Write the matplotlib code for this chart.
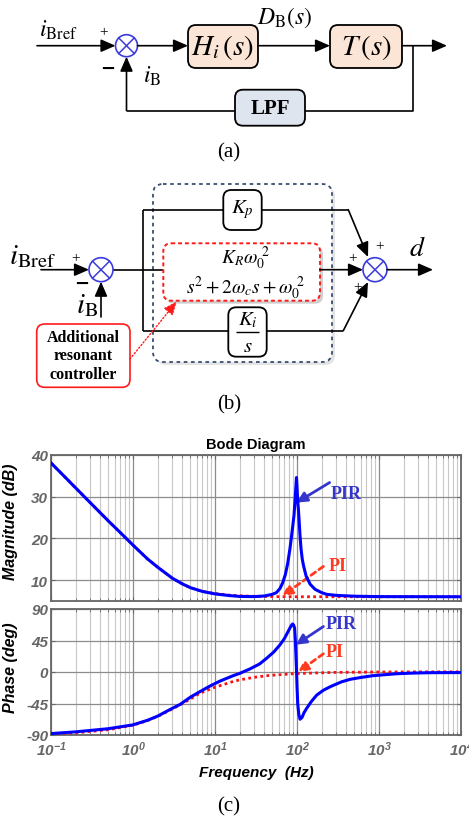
import matplotlib
matplotlib.use("Agg")
import matplotlib.pyplot as plt
from matplotlib.patches import FancyBboxPatch, Circle
from matplotlib.ticker import LogLocator, NullFormatter

plt.rcParams['mathtext.fontset'] = 'stix'
plt.rcParams['axes.unicode_minus'] = False

# ---------------- data ----------------
pi_mag_f = [0.1, 0.15, 0.2, 0.3, 0.5, 0.7, 1, 1.5, 2, 3, 4, 5, 7, 10, 15, 20, 30,
            50, 100, 1000, 10000]
pi_mag_db = [38.1, 34.6, 32.1, 28.6, 24.2, 21.4, 18.4, 15.1, 13.1, 10.5, 9.1, 8.2,
             7.3, 6.8, 6.4, 6.25, 6.12, 6.05, 6.02, 6.02, 6.02]

pir_mag_f = [0.1, 0.15, 0.2, 0.3, 0.5, 0.7, 1, 1.5, 2, 3, 4, 5, 7, 10, 15, 20, 30,
             40, 50, 56, 62, 67, 72, 77, 82, 87, 92, 95, 97, 98.5, 100, 102, 104,
             106, 109, 112, 116, 120, 129, 145, 166, 200, 230, 300, 500, 1000, 10000]
pir_mag_db = [38.1, 34.6, 32.1, 28.6, 24.2, 21.4, 18.4, 15.1, 13.1, 10.5, 9.1, 8.2,
              7.3, 6.7, 6.3, 6.1, 6.05, 6.2, 6.6, 7.0, 8.0, 9.4, 11.3, 14.0, 17.5,
              21.5, 25.6, 29.6, 32.5, 34.6, 32.5, 29.0, 27.0, 24.5, 20.5, 17.5,
              15.0, 13.5, 11.0, 9.0, 7.8, 7.0, 6.6, 6.35, 6.15, 6.05, 6.02]

pi_ph_f = [0.1, 0.2, 0.5, 1, 1.5, 2, 3, 4, 5, 6.6, 10, 16.7, 20, 30, 42.7, 50, 98,
           277, 1000, 10000]
pi_ph_deg = [-88.5, -87, -82.5, -76, -69.5, -63.5, -53, -45, -38.7, -30, -21.8,
             -13.5, -11.3, -7.6, -5.3, -4.6, -2.2, -0.6, 0, 0.3]

pir_ph_f = [0.1, 0.2, 0.5, 1, 1.5, 2, 3, 3.74, 5, 6.56, 8.7, 11.5, 16.7, 20, 26.7,
            35, 42.7, 52, 62, 70, 78, 83, 86, 88.5, 91, 93.5, 95.5, 97, 98.5, 100,
            102, 105, 109, 115, 122, 131, 150, 174, 210, 260, 350, 443, 600, 851,
            1200, 1640, 2500, 4200, 10000]
pir_ph_deg = [-88, -85.5, -81, -75.5, -69, -63, -52, -46.4, -36, -28, -20, -13,
              -5.2, -2, 4.4, 11.5, 19.7, 28.5, 38.8, 47.5, 58, 64, 67, 68.6, 67,
              62.8, 45, 25, 5, -20, -45, -60, -67.5, -65, -58, -52, -42, -33,
              -26, -20.5, -14, -10.5, -7.8, -5.2, -3.8, -2.5, -1.6, -1.0, -0.8]

xticks = [0.1, 1, 10, 100, 1000, 10000]
mag_ticks = [10, 20, 30, 40]
ph_ticks = [-90, -45, 0, 45, 90]

# ---------------- figure ----------------
W, H = 469, 820
fig = plt.figure(figsize=(W / 100, H / 100), dpi=100)
ov = fig.add_axes([0, 0, 1, 1])
ov.set_xlim(0, W)
ov.set_ylim(H, 0)
ov.axis('off')

BLUE_J = '#3C3CDC'


def arrow(x0, y0, x1, y1, color='k', lw=1.2, ms=11, ls='-'):
    ov.annotate('', xy=(x1, y1), xytext=(x0, y0),
                arrowprops=dict(arrowstyle='-|>,head_length=0.8,head_width=0.35',
                                color=color, lw=lw, shrinkA=0, shrinkB=0,
                                mutation_scale=ms, linestyle=ls))


def line(xs, ys, color='k', lw=1.2, ls='-'):
    ov.plot(xs, ys, color=color, lw=lw, ls=ls, solid_capstyle='butt')


def sumj(cx, cy, r=11):
    ov.add_patch(Circle((cx, cy), r, facecolor='white', edgecolor=BLUE_J, lw=1.2, zorder=3))
    d = r * 0.707
    ov.plot([cx - d, cx + d], [cy - d, cy + d], color=BLUE_J, lw=1.1, zorder=4)
    ov.plot([cx - d, cx + d], [cy + d, cy - d], color=BLUE_J, lw=1.1, zorder=4)


def box(x0, y0, x1, y1, fc='white', ec='k', lw=1.3, ls='-', r=8, z=2):
    ov.add_patch(FancyBboxPatch((x0, y0), x1 - x0, y1 - y0,
                                boxstyle=f'round,pad=0,rounding_size={r}',
                                facecolor=fc, edgecolor=ec, lw=lw, ls=ls, zorder=z))


# ---------------- (a) ----------------
ya = 46.7
sumj(126.5, ya)
arrow(37, ya, 115.5, ya)
ov.text(58, 30, r'$i_{\mathrm{Bref}}$', fontsize=17, ha='center', va='center')
ov.text(104, 33, '+', fontsize=11, ha='center', va='center', family='Liberation Serif')
ov.text(108, 69, '−', fontsize=13, ha='center', va='center', fontweight='bold')
ov.text(152, 76, r'$i_{\mathrm{B}}$', fontsize=17, ha='center', va='center')
arrow(137.5, ya, 188, ya)
box(188, 26, 258, 69, fc='#FBE5D6')
ov.text(223, 47, r'$H_i\,(s)$', fontsize=21, ha='center', va='center', zorder=5)
ov.text(285, 18, r'$D_{\mathrm{B}}(s)$', fontsize=17, ha='center', va='center')
arrow(258, ya, 330, ya)
box(330, 26, 402, 69, fc='#FBE5D6')
ov.text(366, 47, r'$T\,(s)$', fontsize=21, ha='center', va='center', zorder=5)
arrow(402, ya, 447, ya)
line([413, 413, 305], [ya, 111.7, 111.7])
box(235, 90.7, 305, 126.7, fc='#DEE5EF')
ov.text(270, 109, 'LPF', fontsize=15, ha='center', va='center', fontweight='bold',
        family='Liberation Serif', zorder=5)
line([235, 126.5], [111.7, 111.7])
arrow(126.5, 111.7, 126.5, 57.7)
ov.text(229, 153, '(a)', fontsize=15, ha='center', va='center', family='Liberation Serif')

# ---------------- (b) ----------------
yb = 270.7
box(156, 188, 335, 366, fc='#E4E4E4', ec='none', r=10, z=1)
box(153, 185, 332, 363, fc='white', ec='#3A4E72', lw=1.3, ls=(0, (2, 2)), r=10, z=1.5)
sumj(101, yb, 12)
arrow(41, yb, 89, yb)
ov.text(33, 256, r'$i_{\mathrm{Bref}}$', fontsize=21, ha='center', va='center')
ov.text(76, 259, '+', fontsize=11, ha='center', va='center', family='Liberation Serif')
ov.text(82, 284, '−', fontsize=13, ha='center', va='center', fontweight='bold')
ov.text(87, 305, r'$i_{\mathrm{B}}$', fontsize=21, ha='center', va='center')
arrow(101, 318, 101, 282.7)
line([113, 143.3], [yb, yb])
line([143.3, 143.3], [210.7, 331.7])
# top branch
line([143.3, 223.3], [210.7, 210.7])
box(223.3, 191, 261.7, 231, fc='white')
ov.text(242.5, 210, r'$K_p$', fontsize=15, ha='center', va='center', zorder=5)
line([261.7, 348.3], [210.7, 210.7])
arrow(348.3, 210.7, 368, 258)
# middle branch
line([143.3, 163.3], [yb, yb])
box(166.3, 247.3, 323, 304.7, fc='#D0D0D0', ec='none', r=8, z=2)
box(163.3, 244.3, 320, 301.7, fc='white', ec='#FF1A1A', lw=1.4, ls=(0, (2, 1.5)), r=8, z=2.5)
ov.text(245, 258, r'$K_R\omega_0^{\ 2}$', fontsize=14, ha='center', va='center', zorder=5)
line([185, 305], [273.3, 273.3], lw=1.0)
ov.text(245, 288, r'$s^2+2\omega_c s+\omega_0^{\ 2}$', fontsize=14, ha='center', va='center',
        zorder=5)
arrow(320, yb, 363, yb)
sumj(375, yb, 12)
arrow(387, yb, 433, yb)
ov.text(417, 248, r'$d$', fontsize=20, ha='center', va='center')
ov.text(380, 247, '+', fontsize=11, ha='center', va='center', family='Liberation Serif')
ov.text(353, 259, '+', fontsize=11, ha='center', va='center', family='Liberation Serif')
ov.text(358, 288, '+', fontsize=11, ha='center', va='center', family='Liberation Serif')
# bottom branch
line([143.3, 228.3], [331.7, 331.7])
box(228.3, 308.3, 266.7, 357.7, fc='white')
ov.text(247.5, 320, r'$K_i$', fontsize=15, ha='center', va='center', zorder=5)
line([236, 259], [333, 333], lw=1.0)
ov.text(247.5, 346, r'$s$', fontsize=15, ha='center', va='center', zorder=5)
line([266.7, 343.3], [331.7, 331.7])
arrow(343.3, 331.7, 368, 283)
# annotation box
box(36.7, 325, 130, 388.3, fc='white', ec='#FF1A1A', lw=1.2, r=8)
ov.text(83.3, 356.5, 'Additional\nresonant\ncontroller', fontsize=11.5, ha='center',
        va='center', fontweight='bold', family='Liberation Serif', linespacing=1.2, zorder=5)
arrow(130, 360, 176.7, 302.5, color='#FF1A1A', lw=1.0, ms=10, ls=(0, (1, 1.5)))
ov.text(229, 405, '(b)', fontsize=15, ha='center', va='center', family='Liberation Serif')

# ---------------- (c) Bode ----------------
ax_l, ax_w = 51 / W, 410 / W
mag = fig.add_axes([ax_l, 1 - 602 / H, ax_w, 146 / H])
ph = fig.add_axes([ax_l, 1 - 736 / H, ax_w, 126 / H])

GRAY = '#666666'
for a in (mag, ph):
    a.set_xscale('log')
    a.set_xlim(0.1, 1e4)
    a.xaxis.set_major_locator(LogLocator(base=10, numticks=10))
    a.xaxis.set_minor_locator(LogLocator(base=10, subs=range(2, 10), numticks=20))
    a.xaxis.set_minor_formatter(NullFormatter())
    a.grid(True, which='major', color='#8C8C8C', lw=0.9)
    a.grid(True, which='minor', axis='x', color='#C8C8C8', lw=0.8)
    a.set_axisbelow(True)
    a.tick_params(which='both', direction='in', top=True, right=True, colors=GRAY,
                  labelsize=11, pad=2)
    a.tick_params(which='major', length=3)
    a.tick_params(which='minor', length=2)
    for s in a.spines.values():
        s.set_color(GRAY)
        s.set_linewidth(1.3)
ph.tick_params(axis='x', which='major', pad=3.5)

mag.plot(pi_mag_f, pi_mag_db, color='#FF1010', lw=2.0, ls=(0, (1, 1.2)), zorder=3)
mag.plot(pir_mag_f, pir_mag_db, color='#0000FF', lw=2.2, zorder=4)
mag.set_ylim(5, 40)
mag.set_yticks(mag_ticks)
mag.set_xticks(xticks)
mag.tick_params(labelbottom=False)
mag.set_title('Bode Diagram', fontsize=10.5, fontweight='bold', pad=5,
              family='Liberation Sans')
mag.set_ylabel('Magnitude (dB)', fontsize=11.5, fontweight='bold', style='italic',
               family='Liberation Sans')
mag.yaxis.set_label_coords(-0.081, 0.55)

ph.plot(pi_ph_f, pi_ph_deg, color='#FF1010', lw=2.0, ls=(0, (1, 1.2)), zorder=3)
ph.plot(pir_ph_f, pir_ph_deg, color='#0000FF', lw=2.2, zorder=4)
ph.set_ylim(-90, 90)
ph.set_yticks(ph_ticks)
ph.set_xticks(xticks)
ph.set_ylabel('Phase (deg)', fontsize=11.5, fontweight='bold', style='italic',
              family='Liberation Sans')
ph.yaxis.set_label_coords(-0.081, 0.54)
ph.set_xlabel('Frequency  (Hz)', fontsize=11, fontweight='bold', style='italic',
              family='Liberation Sans', labelpad=5)

for a in (mag, ph):
    for lab in a.get_xticklabels() + a.get_yticklabels():
        lab.set_fontweight('bold')
        lab.set_fontstyle('italic')
        lab.set_family('Liberation Sans')
        lab.set_color(GRAY)

# annotations
PIRC = '#3535CC'
PIC = '#FF3B1F'
mag.annotate('', xy=(99, 28.6), xytext=(250, 33.4),
             arrowprops=dict(arrowstyle='-|>,head_length=0.6,head_width=0.3', color=PIRC,
                             lw=2.0, shrinkA=0, shrinkB=0, mutation_scale=10))
mag.text(255, 30.7, 'PIR', color=PIRC, fontsize=13, fontweight='bold',
         family='Liberation Serif', ha='left', va='center')
mag.annotate('', xy=(66, 6.2), xytext=(210, 13.3),
             arrowprops=dict(arrowstyle='-|>,head_length=0.6,head_width=0.3', color=PIC,
                             lw=2.0, shrinkA=0, shrinkB=0, mutation_scale=10,
                             linestyle=(0, (2, 1.5))))
mag.text(240, 13.6, 'PI', color=PIC, fontsize=13, fontweight='bold',
         family='Liberation Serif', ha='left', va='center')

ph.annotate('', xy=(97, 39), xytext=(210, 65),
            arrowprops=dict(arrowstyle='-|>,head_length=0.6,head_width=0.3', color=PIRC,
                            lw=2.0, shrinkA=0, shrinkB=0, mutation_scale=10))
ph.text(225, 69, 'PIR', color=PIRC, fontsize=13, fontweight='bold',
        family='Liberation Serif', ha='left', va='center')
ph.annotate('', xy=(103, 0), xytext=(210, 26),
            arrowprops=dict(arrowstyle='-|>,head_length=0.6,head_width=0.3', color=PIC,
                            lw=2.0, shrinkA=0, shrinkB=0, mutation_scale=10,
                            linestyle=(0, (2, 1.5))))
ph.text(225, 29, 'PI', color=PIC, fontsize=13, fontweight='bold',
        family='Liberation Serif', ha='left', va='center')

ov.text(229, 807, '(c)', fontsize=15, ha='center', va='center', family='Liberation Serif')

fig.savefig('out.png', dpi=100)
